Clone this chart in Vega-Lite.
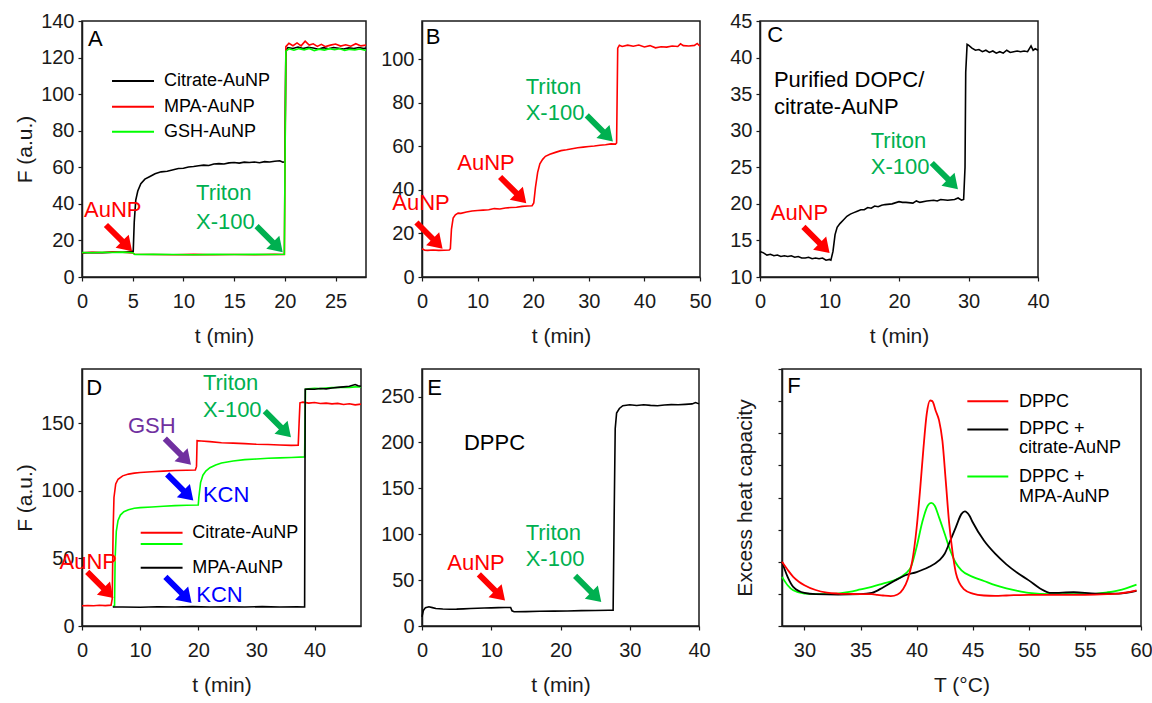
{
 "$schema": "https://vega.github.io/schema/vega-lite/v6.json",
 "background": "white",
 "padding": {"left": 13, "top": 10, "right": 5, "bottom": 5},
 "bounds": "flush",
 "spacing": 348,
 "resolve": {"scale": {"x": "independent", "y": "independent", "color": "independent"}},
 "vconcat": [
  {
   "bounds": "flush",
   "spacing": 56,
   "resolve": {"scale": {"x": "independent", "y": "independent", "color": "independent"}},
   "hconcat": [
    {
     "width": 284, "height": 256,
     "encoding": {
      "x": {"field": "t", "type": "quantitative", "scale": {"domain": [0, 28], "nice": false, "zero": false}, "axis": {"values": [0, 5, 10, 15, 20, 25], "title": "t (min)"}},
      "y": {"field": "v", "type": "quantitative", "scale": {"domain": [0, 140], "nice": false, "zero": false}, "axis": {"values": [0, 20, 40, 60, 80, 100, 120, 140], "title": "F (a.u.)"}},
      "color": {"field": "k", "type": "nominal", "scale": {"domain": ["Citrate-AuNP", "MPA-AuNP", "GSH-AuNP", "AuNP", "Triton", "note"], "range": ["#000000", "#ff0000", "#00ff00", "#ff0000", "#00b050", "#000000"]}, "legend": null}
     },
     "layer": [
      {
       "mark": {"type": "line", "strokeWidth": 1.6},
       "data": {"values": [
        {"k":"Citrate-AuNP","t":0,"v":13.2},{"k":"Citrate-AuNP","t":1,"v":13.4},{"k":"Citrate-AuNP","t":2,"v":13.3},{"k":"Citrate-AuNP","t":3,"v":13.6},{"k":"Citrate-AuNP","t":4,"v":13.5},{"k":"Citrate-AuNP","t":4.9,"v":14.0},{"k":"Citrate-AuNP","t":5.05,"v":14.0},{"k":"Citrate-AuNP","t":5.15,"v":30},{"k":"Citrate-AuNP","t":5.3,"v":42},{"k":"Citrate-AuNP","t":5.5,"v":47},{"k":"Citrate-AuNP","t":5.8,"v":51},{"k":"Citrate-AuNP","t":6.2,"v":53.5},{"k":"Citrate-AuNP","t":6.7,"v":55},{"k":"Citrate-AuNP","t":7.2,"v":56.5},{"k":"Citrate-AuNP","t":7.8,"v":57.5},{"k":"Citrate-AuNP","t":8.4,"v":57.8},{"k":"Citrate-AuNP","t":9,"v":58.6},{"k":"Citrate-AuNP","t":9.5,"v":59.3},{"k":"Citrate-AuNP","t":10,"v":59.5},{"k":"Citrate-AuNP","t":10.5,"v":60.2},{"k":"Citrate-AuNP","t":11,"v":60.4},{"k":"Citrate-AuNP","t":11.5,"v":60.8},{"k":"Citrate-AuNP","t":12,"v":61.2},{"k":"Citrate-AuNP","t":12.5,"v":61.0},{"k":"Citrate-AuNP","t":13,"v":61.8},{"k":"Citrate-AuNP","t":13.5,"v":62.0},{"k":"Citrate-AuNP","t":14,"v":61.8},{"k":"Citrate-AuNP","t":14.5,"v":62.4},{"k":"Citrate-AuNP","t":15,"v":62.6},{"k":"Citrate-AuNP","t":15.5,"v":62.3},{"k":"Citrate-AuNP","t":16,"v":62.8},{"k":"Citrate-AuNP","t":16.5,"v":62.6},{"k":"Citrate-AuNP","t":17,"v":62.9},{"k":"Citrate-AuNP","t":17.5,"v":62.5},{"k":"Citrate-AuNP","t":18,"v":63.1},{"k":"Citrate-AuNP","t":18.5,"v":62.9},{"k":"Citrate-AuNP","t":19,"v":63.3},{"k":"Citrate-AuNP","t":19.5,"v":63.6},{"k":"Citrate-AuNP","t":19.8,"v":62.8},{"k":"Citrate-AuNP","t":20,"v":63},{"k":"Citrate-AuNP","t":20.1,"v":124},{"k":"Citrate-AuNP","t":20.3,"v":125.5},{"k":"Citrate-AuNP","t":20.8,"v":125.0},{"k":"Citrate-AuNP","t":21.3,"v":125.8},{"k":"Citrate-AuNP","t":21.8,"v":124.9},{"k":"Citrate-AuNP","t":22.3,"v":125.6},{"k":"Citrate-AuNP","t":22.8,"v":125.2},{"k":"Citrate-AuNP","t":23.3,"v":124.6},{"k":"Citrate-AuNP","t":23.8,"v":125.4},{"k":"Citrate-AuNP","t":24.3,"v":124.8},{"k":"Citrate-AuNP","t":24.8,"v":125.5},{"k":"Citrate-AuNP","t":25.3,"v":125.1},{"k":"Citrate-AuNP","t":25.8,"v":124.7},{"k":"Citrate-AuNP","t":26.3,"v":125.3},{"k":"Citrate-AuNP","t":26.8,"v":125.0},{"k":"Citrate-AuNP","t":27.3,"v":125.5},{"k":"Citrate-AuNP","t":27.8,"v":124.9},{"k":"Citrate-AuNP","t":28,"v":125.2},
        {"k":"MPA-AuNP","t":0,"v":13.3},{"k":"MPA-AuNP","t":1,"v":13.5},{"k":"MPA-AuNP","t":2,"v":13.4},{"k":"MPA-AuNP","t":3,"v":13.6},{"k":"MPA-AuNP","t":4,"v":13.5},{"k":"MPA-AuNP","t":5,"v":13.2},{"k":"MPA-AuNP","t":5.2,"v":12.4},{"k":"MPA-AuNP","t":7,"v":12.3},{"k":"MPA-AuNP","t":9,"v":12.2},{"k":"MPA-AuNP","t":11,"v":12.4},{"k":"MPA-AuNP","t":13,"v":12.2},{"k":"MPA-AuNP","t":15,"v":12.3},{"k":"MPA-AuNP","t":17,"v":12.2},{"k":"MPA-AuNP","t":19,"v":12.4},{"k":"MPA-AuNP","t":19.95,"v":12.3},{"k":"MPA-AuNP","t":20.1,"v":126},{"k":"MPA-AuNP","t":20.4,"v":127.8},{"k":"MPA-AuNP","t":20.8,"v":126.5},{"k":"MPA-AuNP","t":21.2,"v":128},{"k":"MPA-AuNP","t":21.6,"v":126.4},{"k":"MPA-AuNP","t":22.0,"v":129},{"k":"MPA-AuNP","t":22.4,"v":126.8},{"k":"MPA-AuNP","t":22.8,"v":127.5},{"k":"MPA-AuNP","t":23.2,"v":126.1},{"k":"MPA-AuNP","t":23.6,"v":127.2},{"k":"MPA-AuNP","t":24,"v":126.0},{"k":"MPA-AuNP","t":24.5,"v":126.8},{"k":"MPA-AuNP","t":25,"v":127.4},{"k":"MPA-AuNP","t":25.5,"v":126.3},{"k":"MPA-AuNP","t":26,"v":127.0},{"k":"MPA-AuNP","t":26.5,"v":126.2},{"k":"MPA-AuNP","t":27,"v":127.6},{"k":"MPA-AuNP","t":27.5,"v":126.4},{"k":"MPA-AuNP","t":28,"v":126.8},
        {"k":"GSH-AuNP","t":0,"v":13.4},{"k":"GSH-AuNP","t":1,"v":13.3},{"k":"GSH-AuNP","t":2,"v":13.5},{"k":"GSH-AuNP","t":3,"v":13.4},{"k":"GSH-AuNP","t":4,"v":13.6},{"k":"GSH-AuNP","t":5,"v":13.3},{"k":"GSH-AuNP","t":5.2,"v":12.3},{"k":"GSH-AuNP","t":7,"v":12.4},{"k":"GSH-AuNP","t":9,"v":12.3},{"k":"GSH-AuNP","t":11,"v":12.2},{"k":"GSH-AuNP","t":13,"v":12.4},{"k":"GSH-AuNP","t":15,"v":12.3},{"k":"GSH-AuNP","t":17,"v":12.4},{"k":"GSH-AuNP","t":19,"v":12.3},{"k":"GSH-AuNP","t":19.95,"v":12.4},{"k":"GSH-AuNP","t":20.1,"v":123.5},{"k":"GSH-AuNP","t":20.4,"v":124.8},{"k":"GSH-AuNP","t":20.9,"v":124.0},{"k":"GSH-AuNP","t":21.4,"v":124.9},{"k":"GSH-AuNP","t":21.9,"v":124.2},{"k":"GSH-AuNP","t":22.4,"v":125.0},{"k":"GSH-AuNP","t":22.9,"v":123.8},{"k":"GSH-AuNP","t":23.4,"v":124.6},{"k":"GSH-AuNP","t":23.9,"v":124.1},{"k":"GSH-AuNP","t":24.4,"v":124.9},{"k":"GSH-AuNP","t":24.9,"v":124.3},{"k":"GSH-AuNP","t":25.4,"v":124.8},{"k":"GSH-AuNP","t":25.9,"v":123.9},{"k":"GSH-AuNP","t":26.4,"v":124.5},{"k":"GSH-AuNP","t":26.9,"v":124.2},{"k":"GSH-AuNP","t":27.4,"v":124.7},{"k":"GSH-AuNP","t":28,"v":123.9}
       ]}
      },
      {
       "mark": {"type": "rule", "strokeWidth": 2},
       "data": {"values": [
        {"k":"Citrate-AuNP","t":2.96,"t2":7.1,"v":107.2},{"k":"MPA-AuNP","t":2.96,"t2":7.1,"v":93.1},{"k":"GSH-AuNP","t":2.96,"t2":7.1,"v":79.5}
       ]},
       "encoding": {"x2": {"field": "t2"}}
      },
      {
       "mark": {"type": "text", "align": "left", "baseline": "middle", "fontSize": 18},
       "data": {"values": [
        {"t":8.08,"v":107.2,"label":"Citrate-AuNP"},{"t":8.08,"v":93.1,"label":"MPA-AuNP"},{"t":8.08,"v":79.5,"label":"GSH-AuNP"}
       ]},
       "encoding": {"text": {"field": "label"}, "color": {"value": "#000000"}}
      },
      {
       "mark": {"type": "text", "align": "left", "baseline": "middle", "fontSize": 22},
       "data": {"values": [
        {"k":"note","t":0.6,"v":130.2,"label":"A"},
        {"k":"AuNP","t":0.2,"v":36.6,"label":"AuNP"},
        {"k":"Triton","t":11.24,"v":45.9,"label":"Triton"},
        {"k":"Triton","t":11.24,"v":30.1,"label":"X-100"}
       ]},
       "encoding": {"text": {"field": "label"}}
      },
      {
       "mark": {"type": "point", "shape": "M-1,-0.16L0.24,-0.16L0.24,-0.5L1,0L0.24,0.5L0.24,0.16L-1,0.16Z", "angle": 45, "size": 1369, "filled": true, "opacity": 1},
       "data": {"values": [
        {"k":"AuNP","t":3.65,"v":21.3},{"k":"Triton","t":18.5,"v":20.7}
       ]}
      }
     ]
    },
    {
     "bounds": "flush",
     "spacing": 60,
     "resolve": {"scale": {"x": "independent", "y": "independent", "color": "independent"}},
     "hconcat": [
      {
       "width": 278, "height": 256,
       "encoding": {
        "x": {"field": "t", "type": "quantitative", "scale": {"domain": [0, 50], "nice": false, "zero": false}, "axis": {"values": [0, 10, 20, 30, 40, 50], "title": "t (min)"}},
        "y": {"field": "v", "type": "quantitative", "scale": {"domain": [0, 117.5], "nice": false, "zero": false}, "axis": {"values": [0, 20, 40, 60, 80, 100], "title": null}},
        "color": {"field": "k", "type": "nominal", "scale": {"domain": ["DOPC", "AuNP", "Triton", "note"], "range": ["#ff0000", "#ff0000", "#00b050", "#000000"]}, "legend": null}
       },
       "layer": [
        {
         "mark": {"type": "line", "strokeWidth": 1.6},
         "data": {"values": [
          {"k":"DOPC","t":0,"v":13.0},{"k":"DOPC","t":0.5,"v":12.3},{"k":"DOPC","t":1,"v":12.2},{"k":"DOPC","t":2,"v":12.4},{"k":"DOPC","t":3,"v":12.2},{"k":"DOPC","t":4,"v":12.3},{"k":"DOPC","t":4.9,"v":12.4},{"k":"DOPC","t":5.1,"v":13},{"k":"DOPC","t":5.3,"v":22},{"k":"DOPC","t":5.6,"v":27},{"k":"DOPC","t":6,"v":28.5},{"k":"DOPC","t":6.5,"v":29.3},{"k":"DOPC","t":7,"v":29.2},{"k":"DOPC","t":8,"v":29.8},{"k":"DOPC","t":9,"v":30.3},{"k":"DOPC","t":10,"v":30.5},{"k":"DOPC","t":11,"v":30.7},{"k":"DOPC","t":12,"v":30.9},{"k":"DOPC","t":13,"v":31.4},{"k":"DOPC","t":14,"v":31.2},{"k":"DOPC","t":15,"v":31.7},{"k":"DOPC","t":16,"v":31.9},{"k":"DOPC","t":17,"v":32.0},{"k":"DOPC","t":18,"v":32.4},{"k":"DOPC","t":19,"v":32.6},{"k":"DOPC","t":19.8,"v":32.7},{"k":"DOPC","t":20.1,"v":34},{"k":"DOPC","t":20.4,"v":41},{"k":"DOPC","t":20.8,"v":48},{"k":"DOPC","t":21.2,"v":52},{"k":"DOPC","t":21.7,"v":54},{"k":"DOPC","t":22.2,"v":55.4},{"k":"DOPC","t":23,"v":56.3},{"k":"DOPC","t":24,"v":57.2},{"k":"DOPC","t":25,"v":58.0},{"k":"DOPC","t":26,"v":58.4},{"k":"DOPC","t":27,"v":58.9},{"k":"DOPC","t":28,"v":59.3},{"k":"DOPC","t":29,"v":59.6},{"k":"DOPC","t":30,"v":59.9},{"k":"DOPC","t":31,"v":60.1},{"k":"DOPC","t":32,"v":60.5},{"k":"DOPC","t":33,"v":60.7},{"k":"DOPC","t":34,"v":61.1},{"k":"DOPC","t":34.8,"v":61.0},{"k":"DOPC","t":35,"v":61.5},{"k":"DOPC","t":35.2,"v":105},{"k":"DOPC","t":35.5,"v":106.4},{"k":"DOPC","t":36,"v":105.8},{"k":"DOPC","t":37,"v":106.4},{"k":"DOPC","t":38,"v":105.9},{"k":"DOPC","t":39,"v":106.5},{"k":"DOPC","t":40,"v":105.6},{"k":"DOPC","t":41,"v":106.2},{"k":"DOPC","t":42,"v":105.2},{"k":"DOPC","t":43,"v":105.7},{"k":"DOPC","t":44,"v":105.5},{"k":"DOPC","t":45,"v":106.0},{"k":"DOPC","t":46,"v":105.8},{"k":"DOPC","t":46.5,"v":107.0},{"k":"DOPC","t":47,"v":106.2},{"k":"DOPC","t":48,"v":106.0},{"k":"DOPC","t":49,"v":106.3},{"k":"DOPC","t":49.5,"v":107.2},{"k":"DOPC","t":50,"v":105.9}
         ]}
        },
        {
         "mark": {"type": "text", "align": "left", "baseline": "middle", "fontSize": 22},
         "data": {"values": [
          {"k":"note","t":0.67,"v":110.3,"label":"B"},
          {"k":"AuNP","t":-5.34,"v":33.8,"label":"AuNP"},
          {"k":"AuNP","t":6.35,"v":52.2,"label":"AuNP"},
          {"k":"Triton","t":18.65,"v":87.1,"label":"Triton"},
          {"k":"Triton","t":18.65,"v":75.1,"label":"X-100"}
         ]},
         "encoding": {"text": {"field": "label"}}
        },
        {
         "mark": {"type": "point", "shape": "M-1,-0.16L0.24,-0.16L0.24,-0.5L1,0L0.24,0.5L0.24,0.16L-1,0.16Z", "angle": 45, "size": 1369, "filled": true, "opacity": 1},
         "data": {"values": [
          {"k":"AuNP","t":1.35,"v":19.0},{"k":"AuNP","t":16.4,"v":39.9},{"k":"Triton","t":31.98,"v":68.2}
         ]}
        }
       ]
      },
      {
       "width": 278, "height": 256,
       "encoding": {
        "x": {"field": "t", "type": "quantitative", "scale": {"domain": [0, 40], "nice": false, "zero": false}, "axis": {"values": [0, 10, 20, 30, 40], "title": "t (min)"}},
        "y": {"field": "v", "type": "quantitative", "scale": {"domain": [10, 45], "nice": false, "zero": false}, "axis": {"values": [10, 15, 20, 25, 30, 35, 40, 45], "title": null}},
        "color": {"field": "k", "type": "nominal", "scale": {"domain": ["DOPC/citrate-AuNP", "AuNP", "Triton", "note"], "range": ["#000000", "#ff0000", "#00b050", "#000000"]}, "legend": null}
       },
       "layer": [
        {
         "mark": {"type": "line", "strokeWidth": 1.6},
         "data": {"values": [
          {"k":"DOPC/citrate-AuNP","t":0,"v":13.5},{"k":"DOPC/citrate-AuNP","t":0.5,"v":13.3},{"k":"DOPC/citrate-AuNP","t":1,"v":13.0},{"k":"DOPC/citrate-AuNP","t":1.5,"v":13.1},{"k":"DOPC/citrate-AuNP","t":2,"v":12.9},{"k":"DOPC/citrate-AuNP","t":2.5,"v":13.0},{"k":"DOPC/citrate-AuNP","t":3,"v":12.8},{"k":"DOPC/citrate-AuNP","t":3.5,"v":12.9},{"k":"DOPC/citrate-AuNP","t":4,"v":12.8},{"k":"DOPC/citrate-AuNP","t":4.5,"v":12.9},{"k":"DOPC/citrate-AuNP","t":5,"v":12.7},{"k":"DOPC/citrate-AuNP","t":5.5,"v":12.8},{"k":"DOPC/citrate-AuNP","t":6,"v":12.6},{"k":"DOPC/citrate-AuNP","t":6.5,"v":12.6},{"k":"DOPC/citrate-AuNP","t":7,"v":12.7},{"k":"DOPC/citrate-AuNP","t":7.5,"v":12.5},{"k":"DOPC/citrate-AuNP","t":8,"v":12.6},{"k":"DOPC/citrate-AuNP","t":8.5,"v":12.5},{"k":"DOPC/citrate-AuNP","t":9,"v":12.6},{"k":"DOPC/citrate-AuNP","t":9.5,"v":12.3},{"k":"DOPC/citrate-AuNP","t":10,"v":12.4},{"k":"DOPC/citrate-AuNP","t":10.2,"v":12.3},{"k":"DOPC/citrate-AuNP","t":10.5,"v":13.5},{"k":"DOPC/citrate-AuNP","t":10.8,"v":15.8},{"k":"DOPC/citrate-AuNP","t":11.1,"v":16.8},{"k":"DOPC/citrate-AuNP","t":11.5,"v":17.3},{"k":"DOPC/citrate-AuNP","t":12,"v":17.8},{"k":"DOPC/citrate-AuNP","t":12.5,"v":18.3},{"k":"DOPC/citrate-AuNP","t":13,"v":18.6},{"k":"DOPC/citrate-AuNP","t":13.5,"v":18.8},{"k":"DOPC/citrate-AuNP","t":14,"v":19.0},{"k":"DOPC/citrate-AuNP","t":14.5,"v":19.2},{"k":"DOPC/citrate-AuNP","t":15,"v":19.2},{"k":"DOPC/citrate-AuNP","t":15.5,"v":19.5},{"k":"DOPC/citrate-AuNP","t":16,"v":19.4},{"k":"DOPC/citrate-AuNP","t":16.5,"v":19.7},{"k":"DOPC/citrate-AuNP","t":17,"v":19.6},{"k":"DOPC/citrate-AuNP","t":17.5,"v":19.8},{"k":"DOPC/citrate-AuNP","t":18,"v":19.9},{"k":"DOPC/citrate-AuNP","t":19,"v":20.0},{"k":"DOPC/citrate-AuNP","t":20,"v":20.3},{"k":"DOPC/citrate-AuNP","t":20.5,"v":20.2},{"k":"DOPC/citrate-AuNP","t":21,"v":20.2},{"k":"DOPC/citrate-AuNP","t":22,"v":20.1},{"k":"DOPC/citrate-AuNP","t":22.5,"v":20.4},{"k":"DOPC/citrate-AuNP","t":23,"v":20.2},{"k":"DOPC/citrate-AuNP","t":24,"v":20.4},{"k":"DOPC/citrate-AuNP","t":25,"v":20.5},{"k":"DOPC/citrate-AuNP","t":25.5,"v":20.4},{"k":"DOPC/citrate-AuNP","t":26,"v":20.6},{"k":"DOPC/citrate-AuNP","t":27,"v":20.5},{"k":"DOPC/citrate-AuNP","t":28,"v":20.6},{"k":"DOPC/citrate-AuNP","t":28.5,"v":20.8},{"k":"DOPC/citrate-AuNP","t":29,"v":20.5},{"k":"DOPC/citrate-AuNP","t":29.3,"v":20.6},{"k":"DOPC/citrate-AuNP","t":29.5,"v":25},{"k":"DOPC/citrate-AuNP","t":29.6,"v":38},{"k":"DOPC/citrate-AuNP","t":29.8,"v":41.8},{"k":"DOPC/citrate-AuNP","t":30,"v":41.7},{"k":"DOPC/citrate-AuNP","t":30.5,"v":41.3},{"k":"DOPC/citrate-AuNP","t":31,"v":41.0},{"k":"DOPC/citrate-AuNP","t":31.5,"v":41.1},{"k":"DOPC/citrate-AuNP","t":32,"v":40.8},{"k":"DOPC/citrate-AuNP","t":32.5,"v":41.0},{"k":"DOPC/citrate-AuNP","t":33,"v":40.7},{"k":"DOPC/citrate-AuNP","t":33.5,"v":40.9},{"k":"DOPC/citrate-AuNP","t":34,"v":40.6},{"k":"DOPC/citrate-AuNP","t":34.5,"v":40.8},{"k":"DOPC/citrate-AuNP","t":35,"v":40.6},{"k":"DOPC/citrate-AuNP","t":35.5,"v":41.0},{"k":"DOPC/citrate-AuNP","t":36,"v":40.7},{"k":"DOPC/citrate-AuNP","t":36.5,"v":40.8},{"k":"DOPC/citrate-AuNP","t":37,"v":40.9},{"k":"DOPC/citrate-AuNP","t":37.5,"v":40.8},{"k":"DOPC/citrate-AuNP","t":38,"v":40.9},{"k":"DOPC/citrate-AuNP","t":38.5,"v":40.8},{"k":"DOPC/citrate-AuNP","t":39,"v":41.6},{"k":"DOPC/citrate-AuNP","t":39.3,"v":41.0},{"k":"DOPC/citrate-AuNP","t":39.6,"v":41.2},{"k":"DOPC/citrate-AuNP","t":40,"v":41.0}
         ]}
        },
        {
         "mark": {"type": "text", "align": "left", "baseline": "middle", "fontSize": 22},
         "data": {"values": [
          {"k":"note","t":1.05,"v":43.1,"label":"C"},
          {"k":"note","t":2.0,"v":36.93,"label":"Purified DOPC/"},
          {"k":"note","t":2.0,"v":33.2,"label":"citrate-AuNP"},
          {"k":"AuNP","t":1.54,"v":18.7,"label":"AuNP"},
          {"k":"Triton","t":15.93,"v":28.6,"label":"Triton"},
          {"k":"Triton","t":15.93,"v":25.0,"label":"X-100"}
         ]},
         "encoding": {"text": {"field": "label"}}
        },
        {
         "mark": {"type": "point", "shape": "M-1,-0.16L0.24,-0.16L0.24,-0.5L1,0L0.24,0.5L0.24,0.16L-1,0.16Z", "angle": 45, "size": 1369, "filled": true, "opacity": 1},
         "data": {"values": [
          {"k":"AuNP","t":8.13,"v":15.06},{"k":"Triton","t":26.6,"v":23.8}
         ]}
        }
       ]
      }
     ]
    }
   ]
  },
  {
   "bounds": "flush",
   "spacing": 61,
   "resolve": {"scale": {"x": "independent", "y": "independent", "color": "independent"}},
   "hconcat": [
    {
     "width": 279, "height": 257,
     "encoding": {
      "x": {"field": "t", "type": "quantitative", "scale": {"domain": [0, 48], "nice": false, "zero": false}, "axis": {"values": [0, 10, 20, 30, 40], "title": "t (min)"}},
      "y": {"field": "v", "type": "quantitative", "scale": {"domain": [0, 190], "nice": false, "zero": false}, "axis": {"values": [0, 50, 100, 150], "title": "F (a.u.)"}},
      "color": {"field": "k", "type": "nominal", "scale": {"domain": ["Citrate-AuNP", "Citrate-AuNP (KCN)", "MPA-AuNP", "AuNP", "Triton", "GSH", "KCN", "note"], "range": ["#ff0000", "#00ff00", "#000000", "#ff0000", "#00b050", "#7030a0", "#0000ff", "#000000"]}, "legend": null}
     },
     "layer": [
      {
       "mark": {"type": "line", "strokeWidth": 1.6},
       "data": {"values": [
        {"k":"Citrate-AuNP","t":0,"v":15.0},{"k":"Citrate-AuNP","t":1,"v":15.2},{"k":"Citrate-AuNP","t":2,"v":15.0},{"k":"Citrate-AuNP","t":3,"v":15.3},{"k":"Citrate-AuNP","t":4,"v":15.1},{"k":"Citrate-AuNP","t":5,"v":15.4},{"k":"Citrate-AuNP","t":5.2,"v":20},{"k":"Citrate-AuNP","t":5.35,"v":70},{"k":"Citrate-AuNP","t":5.5,"v":95},{"k":"Citrate-AuNP","t":5.8,"v":105},{"k":"Citrate-AuNP","t":6.2,"v":108.5},{"k":"Citrate-AuNP","t":7,"v":111},{"k":"Citrate-AuNP","t":8,"v":112.3},{"k":"Citrate-AuNP","t":9,"v":113},{"k":"Citrate-AuNP","t":10,"v":113.5},{"k":"Citrate-AuNP","t":12,"v":114},{"k":"Citrate-AuNP","t":14,"v":114.5},{"k":"Citrate-AuNP","t":16,"v":115},{"k":"Citrate-AuNP","t":18,"v":115.2},{"k":"Citrate-AuNP","t":19.5,"v":115.3},{"k":"Citrate-AuNP","t":19.7,"v":118},{"k":"Citrate-AuNP","t":19.8,"v":137},{"k":"Citrate-AuNP","t":20.5,"v":136.8},{"k":"Citrate-AuNP","t":22,"v":136.3},{"k":"Citrate-AuNP","t":24,"v":135.5},{"k":"Citrate-AuNP","t":26,"v":135.2},{"k":"Citrate-AuNP","t":28,"v":134.8},{"k":"Citrate-AuNP","t":30,"v":134.4},{"k":"Citrate-AuNP","t":32,"v":134.2},{"k":"Citrate-AuNP","t":34,"v":133.8},{"k":"Citrate-AuNP","t":36,"v":133.5},{"k":"Citrate-AuNP","t":37.2,"v":133.7},{"k":"Citrate-AuNP","t":37.35,"v":150},{"k":"Citrate-AuNP","t":37.5,"v":165},{"k":"Citrate-AuNP","t":38,"v":165.5},{"k":"Citrate-AuNP","t":39,"v":164.8},{"k":"Citrate-AuNP","t":40,"v":165.2},{"k":"Citrate-AuNP","t":41,"v":164.5},{"k":"Citrate-AuNP","t":42,"v":164.8},{"k":"Citrate-AuNP","t":43,"v":164.2},{"k":"Citrate-AuNP","t":44,"v":164.6},{"k":"Citrate-AuNP","t":45,"v":163.8},{"k":"Citrate-AuNP","t":46,"v":164.3},{"k":"Citrate-AuNP","t":47,"v":163.5},{"k":"Citrate-AuNP","t":48,"v":164.0},
        {"k":"Citrate-AuNP (KCN)","t":5.3,"v":14.5},{"k":"Citrate-AuNP (KCN)","t":5.6,"v":15},{"k":"Citrate-AuNP (KCN)","t":5.7,"v":50},{"k":"Citrate-AuNP (KCN)","t":5.9,"v":70},{"k":"Citrate-AuNP (KCN)","t":6.2,"v":78},{"k":"Citrate-AuNP (KCN)","t":6.6,"v":82},{"k":"Citrate-AuNP (KCN)","t":7.2,"v":84.5},{"k":"Citrate-AuNP (KCN)","t":8,"v":86},{"k":"Citrate-AuNP (KCN)","t":9,"v":87},{"k":"Citrate-AuNP (KCN)","t":10,"v":87.5},{"k":"Citrate-AuNP (KCN)","t":12,"v":88},{"k":"Citrate-AuNP (KCN)","t":14,"v":88.5},{"k":"Citrate-AuNP (KCN)","t":16,"v":89},{"k":"Citrate-AuNP (KCN)","t":18,"v":89.3},{"k":"Citrate-AuNP (KCN)","t":20,"v":89.5},{"k":"Citrate-AuNP (KCN)","t":20.1,"v":95},{"k":"Citrate-AuNP (KCN)","t":20.4,"v":106},{"k":"Citrate-AuNP (KCN)","t":20.8,"v":111.5},{"k":"Citrate-AuNP (KCN)","t":21.3,"v":114.5},{"k":"Citrate-AuNP (KCN)","t":22,"v":117},{"k":"Citrate-AuNP (KCN)","t":23,"v":119},{"k":"Citrate-AuNP (KCN)","t":24,"v":120.5},{"k":"Citrate-AuNP (KCN)","t":25,"v":121.3},{"k":"Citrate-AuNP (KCN)","t":26,"v":122},{"k":"Citrate-AuNP (KCN)","t":28,"v":123},{"k":"Citrate-AuNP (KCN)","t":30,"v":123.5},{"k":"Citrate-AuNP (KCN)","t":32,"v":124},{"k":"Citrate-AuNP (KCN)","t":34,"v":124.3},{"k":"Citrate-AuNP (KCN)","t":36,"v":124.6},{"k":"Citrate-AuNP (KCN)","t":38.3,"v":125},{"k":"Citrate-AuNP (KCN)","t":38.45,"v":175},{"k":"Citrate-AuNP (KCN)","t":39,"v":175.3},{"k":"Citrate-AuNP (KCN)","t":40,"v":175.8},{"k":"Citrate-AuNP (KCN)","t":41,"v":175.5},{"k":"Citrate-AuNP (KCN)","t":42,"v":176},{"k":"Citrate-AuNP (KCN)","t":43,"v":176.2},{"k":"Citrate-AuNP (KCN)","t":44,"v":176.3},{"k":"Citrate-AuNP (KCN)","t":45,"v":176.6},{"k":"Citrate-AuNP (KCN)","t":46,"v":176.4},{"k":"Citrate-AuNP (KCN)","t":47,"v":176.8},{"k":"Citrate-AuNP (KCN)","t":48,"v":176.7},
        {"k":"MPA-AuNP","t":5.3,"v":14.0},{"k":"MPA-AuNP","t":7,"v":14.1},{"k":"MPA-AuNP","t":10,"v":13.9},{"k":"MPA-AuNP","t":13,"v":14.2},{"k":"MPA-AuNP","t":16,"v":14.0},{"k":"MPA-AuNP","t":19,"v":14.3},{"k":"MPA-AuNP","t":22,"v":14.0},{"k":"MPA-AuNP","t":25,"v":14.2},{"k":"MPA-AuNP","t":28,"v":14.0},{"k":"MPA-AuNP","t":31,"v":14.3},{"k":"MPA-AuNP","t":34,"v":14.1},{"k":"MPA-AuNP","t":37,"v":14.2},{"k":"MPA-AuNP","t":38.3,"v":14.1},{"k":"MPA-AuNP","t":38.4,"v":175},{"k":"MPA-AuNP","t":39,"v":175.2},{"k":"MPA-AuNP","t":40,"v":175},{"k":"MPA-AuNP","t":41,"v":175.6},{"k":"MPA-AuNP","t":42,"v":175.3},{"k":"MPA-AuNP","t":43,"v":176},{"k":"MPA-AuNP","t":44,"v":176.4},{"k":"MPA-AuNP","t":45,"v":176.8},{"k":"MPA-AuNP","t":46,"v":177.2},{"k":"MPA-AuNP","t":47,"v":178.5},{"k":"MPA-AuNP","t":47.5,"v":177.6},{"k":"MPA-AuNP","t":48,"v":177.3}
       ]}
      },
      {
       "mark": {"type": "rule", "strokeWidth": 2},
       "data": {"values": [
        {"k":"Citrate-AuNP","t":10.1,"t2":17.3,"v":69.0},{"k":"Citrate-AuNP (KCN)","t":10.1,"t2":17.3,"v":60.6},{"k":"MPA-AuNP","t":10.1,"t2":17.3,"v":43.1}
       ]},
       "encoding": {"x2": {"field": "t2"}}
      },
      {
       "mark": {"type": "text", "align": "left", "baseline": "middle", "fontSize": 18},
       "data": {"values": [
        {"t":18.96,"v":68.5,"label":"Citrate-AuNP"},{"t":18.96,"v":43.1,"label":"MPA-AuNP"}
       ]},
       "encoding": {"text": {"field": "label"}, "color": {"value": "#000000"}}
      },
      {
       "mark": {"type": "text", "align": "left", "baseline": "middle", "fontSize": 22},
       "data": {"values": [
        {"k":"note","t":0.72,"v":176.3,"label":"D"},
        {"k":"Triton","t":20.8,"v":179.9,"label":"Triton"},
        {"k":"Triton","t":20.8,"v":159.7,"label":"X-100"},
        {"k":"GSH","t":7.9,"v":147.9,"label":"GSH"},
        {"k":"KCN","t":20.8,"v":96.9,"label":"KCN"},
        {"k":"KCN","t":19.65,"v":22.9,"label":"KCN"},
        {"k":"AuNP","t":-3.87,"v":47.5,"label":"AuNP"}
       ]},
       "encoding": {"text": {"field": "label"}}
      },
      {
       "mark": {"type": "point", "shape": "M-1,-0.16L0.24,-0.16L0.24,-0.5L1,0L0.24,0.5L0.24,0.16L-1,0.16Z", "angle": 45, "size": 1369, "filled": true, "opacity": 1},
       "data": {"values": [
        {"k":"Triton","t":33.7,"v":149.2},{"k":"GSH","t":16.5,"v":128.9},{"k":"KCN","t":16.9,"v":102.4},{"k":"KCN","t":16.6,"v":26.6},{"k":"AuNP","t":3.15,"v":30.3}
       ]}
      }
     ]
    },
    {
     "bounds": "flush",
     "spacing": 83,
     "resolve": {"scale": {"x": "independent", "y": "independent", "color": "independent"}},
     "hconcat": [
      {
       "width": 277, "height": 257,
       "encoding": {
        "x": {"field": "t", "type": "quantitative", "scale": {"domain": [0, 40], "nice": false, "zero": false}, "axis": {"values": [0, 10, 20, 30, 40], "title": "t (min)"}},
        "y": {"field": "v", "type": "quantitative", "scale": {"domain": [0, 280], "nice": false, "zero": false}, "axis": {"values": [0, 50, 100, 150, 200, 250], "title": null}},
        "color": {"field": "k", "type": "nominal", "scale": {"domain": ["DPPC", "AuNP", "Triton", "note"], "range": ["#000000", "#ff0000", "#00b050", "#000000"]}, "legend": null}
       },
       "layer": [
        {
         "mark": {"type": "line", "strokeWidth": 1.6},
         "data": {"values": [
          {"k":"DPPC","t":0,"v":10},{"k":"DPPC","t":0.2,"v":17},{"k":"DPPC","t":0.5,"v":20},{"k":"DPPC","t":1,"v":21},{"k":"DPPC","t":1.5,"v":20},{"k":"DPPC","t":2,"v":19},{"k":"DPPC","t":3,"v":18.5},{"k":"DPPC","t":4,"v":18.3},{"k":"DPPC","t":5,"v":18.4},{"k":"DPPC","t":6,"v":18.7},{"k":"DPPC","t":7,"v":19.0},{"k":"DPPC","t":8,"v":19.3},{"k":"DPPC","t":9,"v":19.6},{"k":"DPPC","t":10,"v":19.8},{"k":"DPPC","t":11,"v":20.0},{"k":"DPPC","t":12,"v":20.1},{"k":"DPPC","t":12.8,"v":20.2},{"k":"DPPC","t":13,"v":16.5},{"k":"DPPC","t":13.3,"v":15.5},{"k":"DPPC","t":15,"v":15.7},{"k":"DPPC","t":17,"v":16},{"k":"DPPC","t":19,"v":16.2},{"k":"DPPC","t":21,"v":16.4},{"k":"DPPC","t":23,"v":16.7},{"k":"DPPC","t":25,"v":16.9},{"k":"DPPC","t":27,"v":17.1},{"k":"DPPC","t":27.6,"v":17.2},{"k":"DPPC","t":27.75,"v":120},{"k":"DPPC","t":27.9,"v":215},{"k":"DPPC","t":28.1,"v":232},{"k":"DPPC","t":28.5,"v":237},{"k":"DPPC","t":29,"v":240},{"k":"DPPC","t":29.5,"v":240.5},{"k":"DPPC","t":30,"v":241},{"k":"DPPC","t":31,"v":240.3},{"k":"DPPC","t":32,"v":241},{"k":"DPPC","t":33,"v":240.4},{"k":"DPPC","t":34,"v":240},{"k":"DPPC","t":35,"v":240.8},{"k":"DPPC","t":36,"v":241.2},{"k":"DPPC","t":37,"v":241.0},{"k":"DPPC","t":38,"v":241.5},{"k":"DPPC","t":39,"v":242},{"k":"DPPC","t":39.5,"v":243.5},{"k":"DPPC","t":40,"v":242}
         ]}
        },
        {
         "mark": {"type": "text", "align": "left", "baseline": "middle", "fontSize": 22},
         "data": {"values": [
          {"k":"note","t":0.77,"v":259.8,"label":"E"},
          {"k":"note","t":6.06,"v":199.0,"label":"DPPC"},
          {"k":"AuNP","t":3.65,"v":69.0,"label":"AuNP"},
          {"k":"Triton","t":14.97,"v":101.7,"label":"Triton"},
          {"k":"Triton","t":14.97,"v":72.6,"label":"X-100"}
         ]},
         "encoding": {"text": {"field": "label"}}
        },
        {
         "mark": {"type": "point", "shape": "M-1,-0.16L0.24,-0.16L0.24,-0.5L1,0L0.24,0.5L0.24,0.16L-1,0.16Z", "angle": 45, "size": 1369, "filled": true, "opacity": 1},
         "data": {"values": [
          {"k":"AuNP","t":10.1,"v":41.9},{"k":"Triton","t":24.0,"v":40.3}
         ]}
        }
       ]
      },
      {
       "width": 359, "height": 257,
       "encoding": {
        "x": {"field": "t", "type": "quantitative", "scale": {"domain": [28, 60], "nice": false, "zero": false}, "axis": {"values": [30, 35, 40, 45, 50, 55, 60], "title": "T (°C)"}},
        "y": {"field": "v", "type": "quantitative", "scale": {"domain": [0, 8], "nice": false, "zero": false}, "axis": {"values": [0, 1, 2, 3, 4, 5, 6, 7, 8], "labels": false, "title": "Excess heat capacity", "titlePadding": 22}},
        "color": {"field": "k", "type": "nominal", "scale": {"domain": ["DPPC", "DPPC + citrate-AuNP", "DPPC + MPA-AuNP", "note"], "range": ["#ff0000", "#000000", "#00ff00", "#000000"]}, "legend": null}
       },
       "layer": [
        {
         "mark": {"type": "line", "strokeWidth": 1.8, "interpolate": "monotone"},
         "data": {"values": [
          {"k":"DPPC + MPA-AuNP","t":28,"v":1.53},{"k":"DPPC + MPA-AuNP","t":28.5,"v":1.27},{"k":"DPPC + MPA-AuNP","t":29,"v":1.11},{"k":"DPPC + MPA-AuNP","t":30,"v":1.01},{"k":"DPPC + MPA-AuNP","t":32,"v":0.99},{"k":"DPPC + MPA-AuNP","t":34,"v":1.06},{"k":"DPPC + MPA-AuNP","t":35,"v":1.14},{"k":"DPPC + MPA-AuNP","t":36,"v":1.22},{"k":"DPPC + MPA-AuNP","t":37,"v":1.32},{"k":"DPPC + MPA-AuNP","t":38,"v":1.42},{"k":"DPPC + MPA-AuNP","t":39,"v":1.63},{"k":"DPPC + MPA-AuNP","t":39.5,"v":1.84},{"k":"DPPC + MPA-AuNP","t":40,"v":2.46},{"k":"DPPC + MPA-AuNP","t":40.5,"v":3.23},{"k":"DPPC + MPA-AuNP","t":41,"v":3.75},{"k":"DPPC + MPA-AuNP","t":41.3,"v":3.83},{"k":"DPPC + MPA-AuNP","t":41.6,"v":3.75},{"k":"DPPC + MPA-AuNP","t":42,"v":3.38},{"k":"DPPC + MPA-AuNP","t":42.5,"v":2.87},{"k":"DPPC + MPA-AuNP","t":43,"v":2.35},{"k":"DPPC + MPA-AuNP","t":43.5,"v":1.96},{"k":"DPPC + MPA-AuNP","t":44,"v":1.73},{"k":"DPPC + MPA-AuNP","t":45,"v":1.53},{"k":"DPPC + MPA-AuNP","t":46,"v":1.40},{"k":"DPPC + MPA-AuNP","t":47,"v":1.27},{"k":"DPPC + MPA-AuNP","t":48,"v":1.17},{"k":"DPPC + MPA-AuNP","t":49,"v":1.09},{"k":"DPPC + MPA-AuNP","t":50,"v":1.03},{"k":"DPPC + MPA-AuNP","t":52,"v":0.99},{"k":"DPPC + MPA-AuNP","t":55,"v":0.99},{"k":"DPPC + MPA-AuNP","t":57,"v":1.05},{"k":"DPPC + MPA-AuNP","t":58,"v":1.11},{"k":"DPPC + MPA-AuNP","t":59.6,"v":1.29},
          {"k":"DPPC + citrate-AuNP","t":28,"v":2.0},{"k":"DPPC + citrate-AuNP","t":28.5,"v":1.53},{"k":"DPPC + citrate-AuNP","t":29,"v":1.22},{"k":"DPPC + citrate-AuNP","t":30,"v":1.03},{"k":"DPPC + citrate-AuNP","t":31,"v":0.99},{"k":"DPPC + citrate-AuNP","t":33,"v":0.98},{"k":"DPPC + citrate-AuNP","t":35,"v":0.99},{"k":"DPPC + citrate-AuNP","t":36,"v":1.03},{"k":"DPPC + citrate-AuNP","t":37,"v":1.2},{"k":"DPPC + citrate-AuNP","t":38,"v":1.4},{"k":"DPPC + citrate-AuNP","t":39,"v":1.58},{"k":"DPPC + citrate-AuNP","t":40,"v":1.68},{"k":"DPPC + citrate-AuNP","t":41,"v":1.82},{"k":"DPPC + citrate-AuNP","t":42,"v":2.04},{"k":"DPPC + citrate-AuNP","t":42.5,"v":2.25},{"k":"DPPC + citrate-AuNP","t":43,"v":2.66},{"k":"DPPC + citrate-AuNP","t":43.5,"v":3.08},{"k":"DPPC + citrate-AuNP","t":44,"v":3.49},{"k":"DPPC + citrate-AuNP","t":44.3,"v":3.57},{"k":"DPPC + citrate-AuNP","t":44.7,"v":3.44},{"k":"DPPC + citrate-AuNP","t":45,"v":3.23},{"k":"DPPC + citrate-AuNP","t":46,"v":2.66},{"k":"DPPC + citrate-AuNP","t":47,"v":2.25},{"k":"DPPC + citrate-AuNP","t":48,"v":1.92},{"k":"DPPC + citrate-AuNP","t":49,"v":1.65},{"k":"DPPC + citrate-AuNP","t":50,"v":1.42},{"k":"DPPC + citrate-AuNP","t":51,"v":1.17},{"k":"DPPC + citrate-AuNP","t":52,"v":1.03},{"k":"DPPC + citrate-AuNP","t":54,"v":1.05},{"k":"DPPC + citrate-AuNP","t":56,"v":1.01},{"k":"DPPC + citrate-AuNP","t":58,"v":1.01},{"k":"DPPC + citrate-AuNP","t":59.6,"v":1.09},
          {"k":"DPPC","t":28,"v":2.0},{"k":"DPPC","t":28.5,"v":1.75},{"k":"DPPC","t":29,"v":1.53},{"k":"DPPC","t":29.5,"v":1.38},{"k":"DPPC","t":30,"v":1.27},{"k":"DPPC","t":31,"v":1.12},{"k":"DPPC","t":32,"v":1.04},{"k":"DPPC","t":33,"v":1.01},{"k":"DPPC","t":34,"v":1.0},{"k":"DPPC","t":35,"v":0.99},{"k":"DPPC","t":36,"v":0.99},{"k":"DPPC","t":36.5,"v":0.97},{"k":"DPPC","t":37,"v":0.95},{"k":"DPPC","t":37.7,"v":0.93},{"k":"DPPC","t":38.3,"v":0.98},{"k":"DPPC","t":38.8,"v":1.15},{"k":"DPPC","t":39.2,"v":1.45},{"k":"DPPC","t":39.6,"v":2.0},{"k":"DPPC","t":40,"v":3.05},{"k":"DPPC","t":40.3,"v":4.2},{"k":"DPPC","t":40.6,"v":5.5},{"k":"DPPC","t":40.9,"v":6.6},{"k":"DPPC","t":41.2,"v":7.02},{"k":"DPPC","t":41.4,"v":7.0},{"k":"DPPC","t":41.7,"v":6.7},{"k":"DPPC","t":42,"v":6.4},{"k":"DPPC","t":42.3,"v":5.76},{"k":"DPPC","t":42.6,"v":4.5},{"k":"DPPC","t":42.9,"v":3.2},{"k":"DPPC","t":43.2,"v":2.3},{"k":"DPPC","t":43.5,"v":1.65},{"k":"DPPC","t":43.8,"v":1.35},{"k":"DPPC","t":44.2,"v":1.15},{"k":"DPPC","t":45,"v":1.01},{"k":"DPPC","t":46,"v":0.95},{"k":"DPPC","t":47,"v":0.94},{"k":"DPPC","t":48,"v":0.95},{"k":"DPPC","t":50,"v":0.97},{"k":"DPPC","t":52,"v":0.97},{"k":"DPPC","t":55,"v":0.97},{"k":"DPPC","t":57,"v":0.99},{"k":"DPPC","t":58,"v":1.01},{"k":"DPPC","t":59,"v":1.06},{"k":"DPPC","t":59.6,"v":1.11}
         ]}
        },
        {
         "mark": {"type": "rule", "strokeWidth": 2},
         "data": {"values": [
          {"k":"DPPC","t":44.52,"t2":48.17,"v":7.0},{"k":"DPPC + citrate-AuNP","t":44.52,"t2":48.17,"v":6.12},{"k":"DPPC + MPA-AuNP","t":44.52,"t2":48.17,"v":4.65}
         ]},
         "encoding": {"x2": {"field": "t2"}}
        },
        {
         "mark": {"type": "text", "align": "left", "baseline": "middle", "fontSize": 18},
         "data": {"values": [
          {"t":49.12,"v":6.98,"label":"DPPC"},{"t":49.12,"v":6.12,"label":"DPPC +"},{"t":49.12,"v":5.53,"label":"citrate-AuNP"},{"t":49.12,"v":4.65,"label":"DPPC +"},{"t":49.12,"v":4.03,"label":"MPA-AuNP"}
         ]},
         "encoding": {"text": {"field": "label"}, "color": {"value": "#000000"}}
        },
        {
         "mark": {"type": "text", "align": "left", "baseline": "middle", "fontSize": 22},
         "data": {"values": [
          {"k":"note","t":28.47,"v":7.48,"label":"F"}
         ]},
         "encoding": {"text": {"field": "label"}}
        }
       ]
      }
     ]
    }
   ]
  }
 ],
 "config": {
  "font": "Liberation Sans",
  "view": {"stroke": "#1a1a1a", "strokeWidth": 1.5},
  "axis": {"grid": false, "domainColor": "#1a1a1a", "domainWidth": 1.5, "tickColor": "#1a1a1a", "tickSize": 4, "tickWidth": 1.2, "labelFont": "Liberation Sans", "labelFontSize": 20, "labelColor": "#1a1a1a", "labelFlush": false, "labelOverlap": false, "titleFont": "Liberation Sans", "titleFontSize": 21, "titleFontWeight": "normal", "titleColor": "#1a1a1a"},
  "axisX": {"labelPadding": 10, "titlePadding": 14},
  "axisY": {"labelPadding": 4, "titlePadding": 5}
 }
}
